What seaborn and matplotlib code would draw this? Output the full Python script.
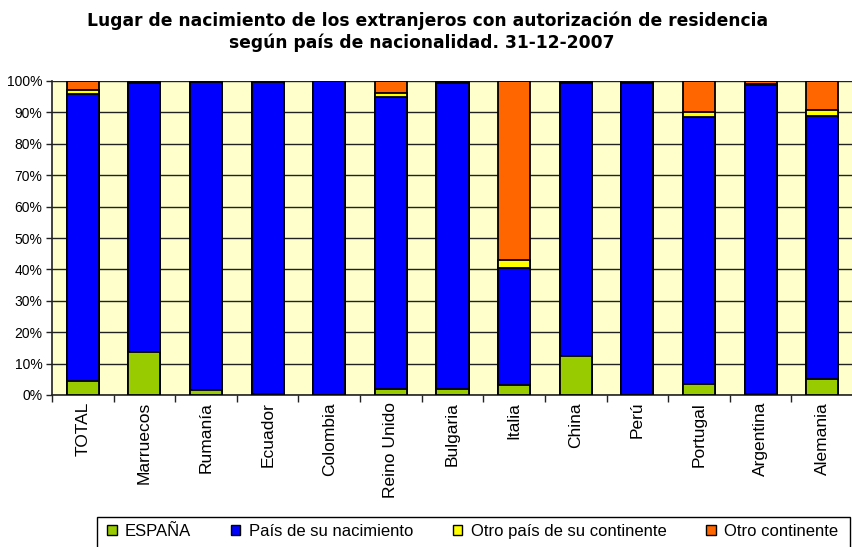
import pandas as pd
import numpy as np
import matplotlib.pyplot as plt
import seaborn as sns
from matplotlib.patches import Patch, Rectangle

# Data (percentages)
paises = ['TOTAL', 'Marruecos', 'Rumanía', 'Ecuador', 'Colombia', 'Reino Unido',
          'Bulgaria', 'Italia', 'China', 'Perú', 'Portugal', 'Argentina', 'Alemania']
espana = [4.6, 13.8, 1.6, 0.3, 0.1, 1.9, 2.0, 3.1, 12.4, 0.1, 3.6, 0.2, 5.1]
pais_nacimiento = [91.3, 85.6, 98.1, 99.5, 99.8, 92.9, 97.4, 37.5, 87.0, 99.3, 84.8, 98.6, 83.8]
otro_pais = [1.2, 0.2, 0.1, 0.1, 0.05, 1.4, 0.2, 2.4, 0.2, 0.1, 1.6, 0.2, 1.9]
otro_continente = [2.9, 0.4, 0.2, 0.1, 0.05, 3.8, 0.4, 57.0, 0.4, 0.5, 10.0, 1.0, 9.2]

series = ['ESPAÑA', 'País de su nacimiento', 'Otro país de su continente', 'Otro continente']
colores = ['#99CC00', '#0000FF', '#FFFF00', '#FF6600']

df = pd.DataFrame({'pais': paises, series[0]: espana, series[1]: pais_nacimiento,
                   series[2]: otro_pais, series[3]: otro_continente})
cum = df[series].cumsum(axis=1)

sns.set_style('white')
plt.rcParams['font.family'] = ['Liberation Sans', 'DejaVu Sans']
plt.rcParams['text.color'] = 'black'
plt.rcParams['xtick.labelcolor'] = 'black'
plt.rcParams['ytick.labelcolor'] = 'black'

W, H = 853, 547
fig = plt.figure(figsize=(W / 100, H / 100), dpi=100)
# plot area: x 52..853 px, y 81..395 px (the right side is cut off in the original)
ax = fig.add_axes([52 / W, 1 - 395 / H, (W - 52) / W, (395 - 81) / H])
ax.set_facecolor('#FFFFCC')

# stacked bars drawn from the top layer down
for s, c in reversed(list(zip(series, colores))):
    sns.barplot(x=df['pais'], y=cum[s], color=c, width=0.52, edgecolor='black',
                linewidth=1.3, saturation=1, ax=ax, zorder=3)

ax.set_ylim(0, 100)
ax.set_xlim(-0.5, (W - 83) / 62)
ax.set_yticks(np.arange(0, 101, 10))
ax.set_yticklabels([f'{v}%' for v in range(0, 101, 10)], fontsize=10)
ax.yaxis.grid(True, color='#222222', linewidth=1.0, zorder=0)
ax.set_axisbelow(True)
ax.set_xticks(np.arange(len(paises)))
ax.set_xticklabels(paises, rotation=90, fontsize=12.5)
ax.set_xticks(np.arange(len(paises) + 1) - 0.5, minor=True)
ax.tick_params(axis='x', which='major', length=0, pad=5, labelcolor='black')
ax.tick_params(axis='x', which='minor', length=5, width=1, color='#222222', bottom=True,
               direction='out')
ax.tick_params(axis='y', length=4, width=1, color='#222222', left=True, pad=3,
               labelcolor='black')
ax.set_xlabel('')
ax.set_ylabel('')
for sp in ax.spines.values():
    sp.set_visible(False)
for side in ['left', 'bottom']:
    ax.spines[side].set_visible(True)
    ax.spines[side].set_color('#222222')
    ax.spines[side].set_linewidth(1.2)

fig.text(0.501, 1 - 21 / H,
         'Lugar de nacimiento de los extranjeros con autorización de residencia',
         ha='center', va='center', fontsize=12.3, fontweight='bold', family='DejaVu Sans',
         color='black')
fig.text(0.495, 1 - 43 / H, 'según país de nacionalidad. 31-12-2007',
         ha='center', va='center', fontsize=12.3, fontweight='bold', family='DejaVu Sans',
         color='black')

# legend box (bottom edge cut off like the original)
fig.patches.append(Rectangle((97 / W, -0.02), (850 - 97) / W, (547 - 517) / H + 0.02,
                             transform=fig.transFigure, fill=False, edgecolor='black',
                             linewidth=1.0))
handles = [Patch(facecolor=c, edgecolor='black', label=s) for s, c in zip(series, colores)]
leg = fig.legend(handles=handles, loc='upper right', bbox_to_anchor=(838 / W, 1 - 524 / H),
                 ncol=4, frameon=False, fontsize=12, labelcolor='black',
                 handlelength=0.55, handleheight=0.55, handletextpad=0.5,
                 columnspacing=2.4, borderpad=0, borderaxespad=0)

fig.savefig('out.png', dpi=100)
